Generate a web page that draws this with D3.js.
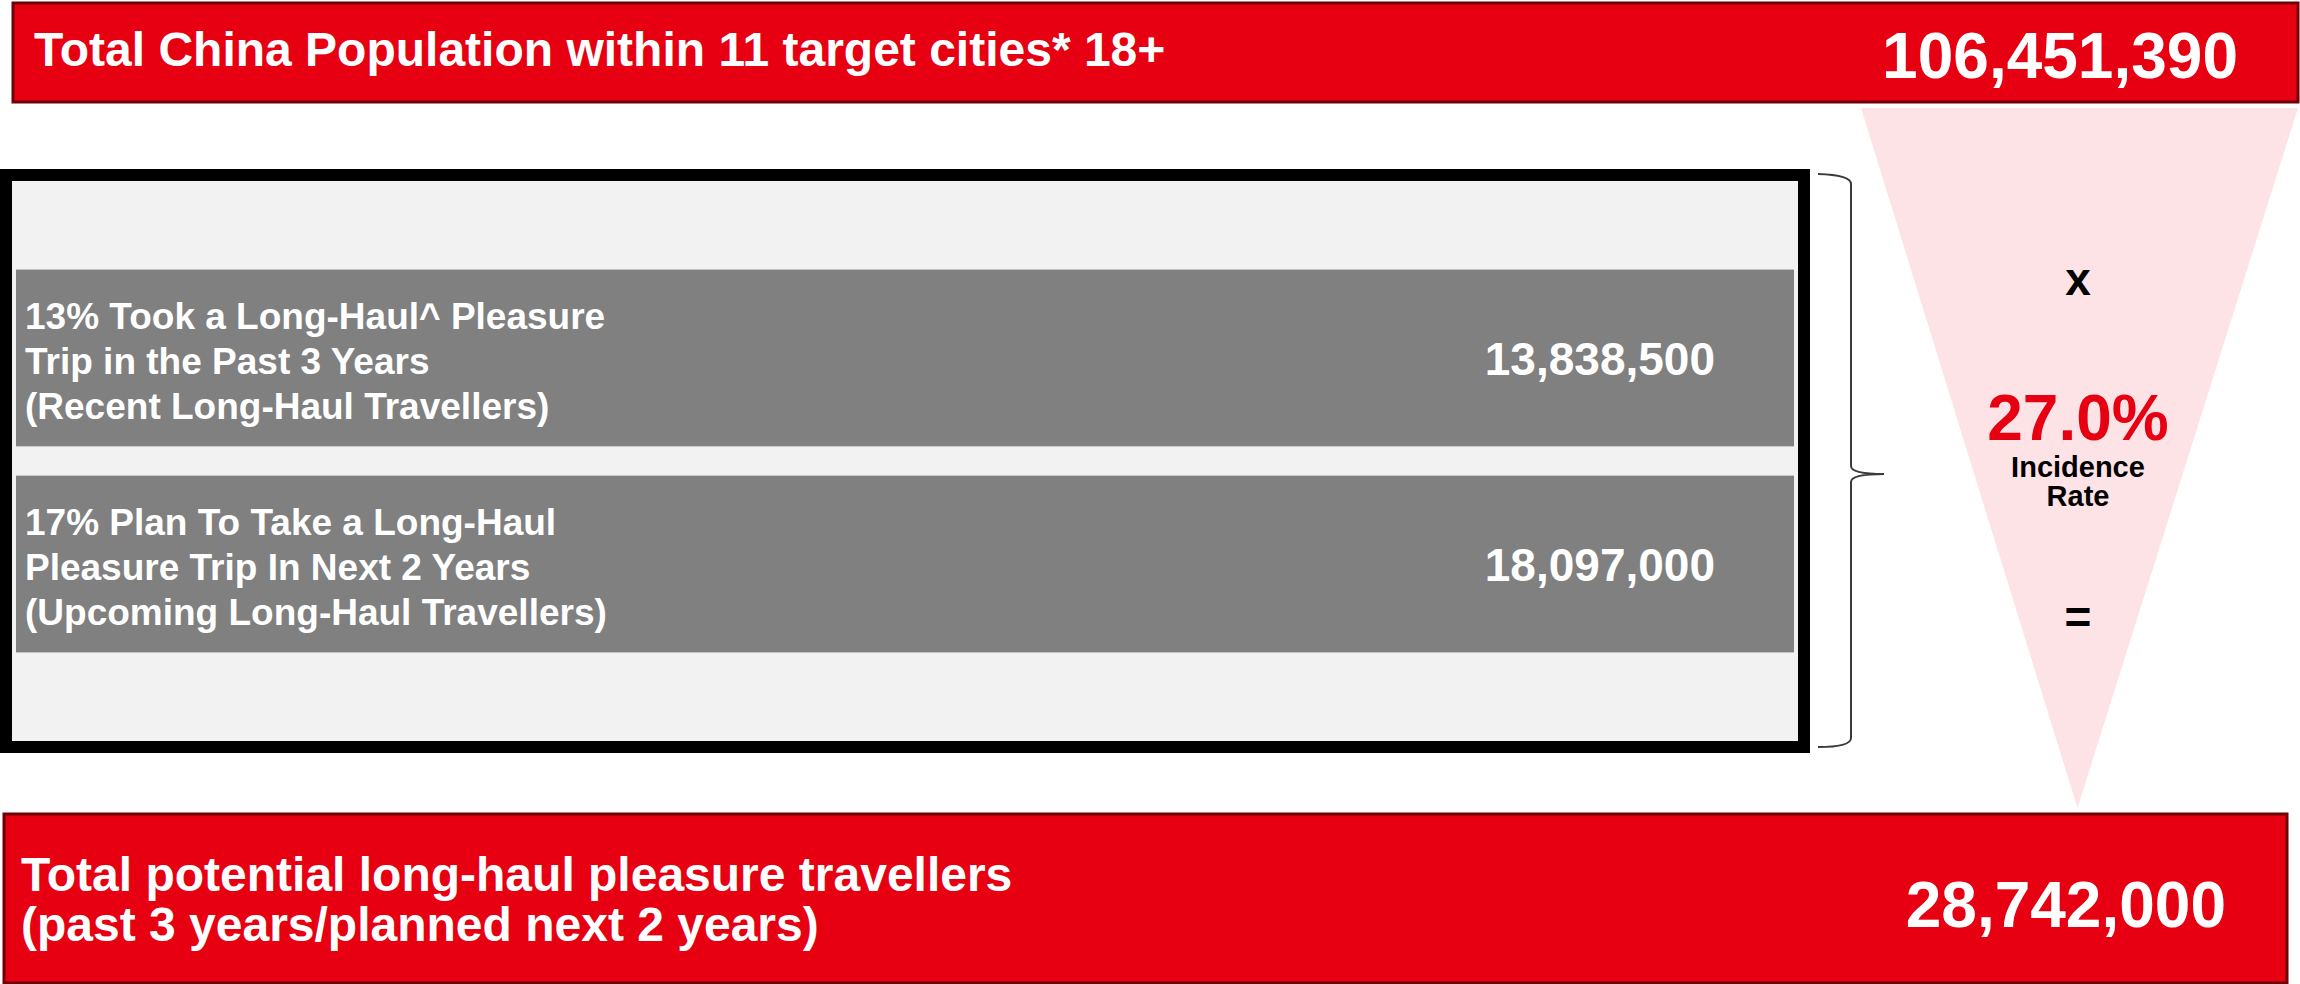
<!DOCTYPE html>
<html>
<head>
<meta charset="utf-8">
<script src="https://cdn.jsdelivr.net/npm/d3@7"></script>
<style>
  body { margin: 0; background: #fff; }
  svg { display: block; font-family: "Liberation Sans", Arial, sans-serif; font-weight: bold; }
</style>
</head>
<body>
<script>
// page size
const SCREEN = { width: 2300, height: 984 };

// values
const TOTAL_LABEL = 'Total China Population within 11 target cities* 18+';
const TOTAL_VALUE = [106451390];
const ROW_KEYS = ['recent', 'upcoming'];
const ROW_LABELS = [
    ['13% Took a Long-Haul^ Pleasure', 'Trip in the Past 3 Years', '(Recent Long-Haul Travellers)'],
    ['17% Plan To Take a Long-Haul', 'Pleasure Trip In Next 2 Years', '(Upcoming Long-Haul Travellers)']
];
const ROW_VALUES = [13838500, 18097000];
const INCIDENCE_RATE = [27.0];
const FUNNEL_LABELS = ['x', 'Incidence', 'Rate', '='];
const RESULT_LABELS = ['Total potential long-haul pleasure travellers', '(past 3 years/planned next 2 years)'];
const RESULT_VALUE = [28742000];

const RED = '#e60012',
      DARK_RED = '#6e0008',
      PINK = '#fde3e5',
      GREY = '#808080',
      LIGHT_GREY = '#f2f2f2';

const fmtNum = d3.format(','),
      fmtPct = d => d3.format('.1f')(d) + '%';

const svg = d3.select('body').append('svg')
    .attr('width', SCREEN.width)
    .attr('height', SCREEN.height);

// funnel (drawn first so the banners sit on top of it)
const funnel = { left: 1861, right: 2298, top: 108, apex: 808 };
funnel.cx = (funnel.left + funnel.right) / 2;
svg.append('path')
    .attr('d', d3.line()([[funnel.left, funnel.top], [funnel.right, funnel.top], [funnel.cx - 2, funnel.apex]]) + 'Z')
    .attr('fill', PINK);

// top banner
const topBanner = svg.append('g');
topBanner.append('rect')
    .attr('x', 13).attr('y', 3)
    .attr('width', 2285).attr('height', 99)
    .attr('fill', RED)
    .attr('stroke', DARK_RED)
    .attr('stroke-width', 3);
topBanner.append('text')
    .attr('x', 34).attr('y', 66)
    .attr('fill', '#fff')
    .attr('font-size', 48)
    .text(TOTAL_LABEL);
topBanner.selectAll('text.value')
    .data(TOTAL_VALUE)
    .enter().append('text')
    .attr('class', 'value')
    .attr('x', 2238).attr('y', 78)
    .attr('text-anchor', 'end')
    .attr('fill', '#fff')
    .attr('font-size', 64)
    .text(d => fmtNum(d));

// black framed box with the two grey rows
const box = { x: 6, y: 175, width: 1798, height: 572, stroke: 12 };
svg.append('rect')
    .attr('x', box.x).attr('y', box.y)
    .attr('width', box.width).attr('height', box.height)
    .attr('fill', LIGHT_GREY)
    .attr('stroke', '#000')
    .attr('stroke-width', box.stroke);

const yRow = d3.scaleBand()
    .domain(ROW_KEYS)
    .range([box.y + box.stroke / 2, box.y + box.height - box.stroke / 2])
    .paddingInner(0.142)
    .paddingOuter(0.43);

const rows = svg.selectAll('g.row')
    .data(ROW_KEYS.map((k, i) => ({ key: k, lines: ROW_LABELS[i], value: ROW_VALUES[i] })))
    .enter().append('g')
    .attr('class', 'row')
    .attr('transform', d => `translate(0,${yRow(d.key)})`);

rows.append('rect')
    .attr('x', 16)
    .attr('width', 1778)
    .attr('height', yRow.bandwidth())
    .attr('fill', GREY);

rows.append('text')
    .attr('fill', '#fff')
    .attr('font-size', 37)
    .selectAll('tspan')
    .data(d => d.lines)
    .enter().append('tspan')
    .attr('x', 25)
    .attr('y', (d, i) => yRow.bandwidth() / 2 + 16 + (i - 1) * 45)
    .text(d => d);

rows.append('text')
    .attr('x', 1715)
    .attr('y', yRow.bandwidth() / 2 + 17)
    .attr('text-anchor', 'end')
    .attr('fill', '#fff')
    .attr('font-size', 46)
    .text(d => fmtNum(d.value));

// curly brace to the right of the box
const brace = d3.path();
brace.moveTo(1818, 174);
brace.quadraticCurveTo(1851, 175, 1851, 184);
brace.lineTo(1851, 466);
brace.quadraticCurveTo(1851, 474, 1884, 474);
brace.quadraticCurveTo(1851, 474, 1851, 482);
brace.lineTo(1851, 738);
brace.quadraticCurveTo(1851, 747, 1818, 747);
svg.append('path')
    .attr('d', brace.toString())
    .attr('fill', 'none')
    .attr('stroke', '#3a3a3a')
    .attr('stroke-width', 2);

// funnel texts
const fx = 2078;
svg.append('text')
    .attr('x', fx).attr('y', 295)
    .attr('text-anchor', 'middle')
    .attr('font-size', 46)
    .text(FUNNEL_LABELS[0]);
svg.selectAll('text.rate')
    .data(INCIDENCE_RATE)
    .enter().append('text')
    .attr('class', 'rate')
    .attr('x', fx).attr('y', 440)
    .attr('text-anchor', 'middle')
    .attr('fill', RED)
    .attr('font-size', 64)
    .text(d => fmtPct(d));
svg.append('text')
    .attr('x', fx).attr('y', 477)
    .attr('text-anchor', 'middle')
    .attr('font-size', 29)
    .text(FUNNEL_LABELS[1]);
svg.append('text')
    .attr('x', fx).attr('y', 506)
    .attr('text-anchor', 'middle')
    .attr('font-size', 29)
    .text(FUNNEL_LABELS[2]);
svg.append('text')
    .attr('x', fx).attr('y', 633)
    .attr('text-anchor', 'middle')
    .attr('font-size', 46)
    .text(FUNNEL_LABELS[3]);

// bottom banner
const bottomBanner = svg.append('g');
bottomBanner.append('rect')
    .attr('x', 4).attr('y', 814)
    .attr('width', 2283).attr('height', 169)
    .attr('fill', RED)
    .attr('stroke', DARK_RED)
    .attr('stroke-width', 3);
bottomBanner.append('text')
    .attr('fill', '#fff')
    .attr('font-size', 48)
    .selectAll('tspan')
    .data(RESULT_LABELS)
    .enter().append('tspan')
    .attr('x', 21)
    .attr('y', (d, i) => 891 + i * 50)
    .text(d => d);
bottomBanner.selectAll('text.value')
    .data(RESULT_VALUE)
    .enter().append('text')
    .attr('class', 'value')
    .attr('x', 2226).attr('y', 927)
    .attr('text-anchor', 'end')
    .attr('fill', '#fff')
    .attr('font-size', 64)
    .text(d => fmtNum(d));
</script>
</body>
</html>
